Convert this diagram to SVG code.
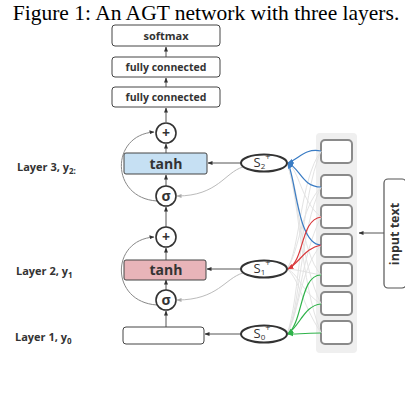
<svg xmlns="http://www.w3.org/2000/svg" width="405" height="407" viewBox="0 0 405 407">
<defs>
<marker id="ah" viewBox="0 0 10 10" refX="9" refY="5" markerWidth="5" markerHeight="5" orient="auto"><path d="M0,1 L10,5 L0,9 z" fill="#333"/></marker>
<marker id="ahg" viewBox="0 0 10 10" refX="9" refY="5" markerWidth="5" markerHeight="5" orient="auto"><path d="M0,1 L10,5 L0,9 z" fill="#aaa"/></marker>
<marker id="ahb" viewBox="0 0 10 10" refX="9" refY="5" markerWidth="5" markerHeight="5" orient="auto"><path d="M0,1 L10,5 L0,9 z" fill="#3a7cc4"/></marker>
<marker id="ahr" viewBox="0 0 10 10" refX="9" refY="5" markerWidth="5" markerHeight="5" orient="auto"><path d="M0,1 L10,5 L0,9 z" fill="#d9393c"/></marker>
<marker id="ahgr" viewBox="0 0 10 10" refX="9" refY="5" markerWidth="5" markerHeight="5" orient="auto"><path d="M0,1 L10,5 L0,9 z" fill="#2fb34a"/></marker>
</defs>
<style>
.lbl{font-family:"Open Sans","Liberation Sans",sans-serif;font-weight:bold;fill:#333}
.st{font-family:"Open Sans","Liberation Sans",sans-serif;fill:#333}
.box{fill:#fff;stroke:#444;stroke-width:1}
.circ{fill:#fff;stroke:#333;stroke-width:1.6}
.ell{fill:#fff;stroke:#333;stroke-width:2}
.ib{fill:#fff;stroke:#8a8a8a;stroke-width:2}
.ln{fill:none;stroke:#555;stroke-width:1;marker-end:url(#ah)}
.fb{fill:none;stroke:#888;stroke-width:1;marker-end:url(#ah)}
.gl{fill:none;stroke:#bbb;stroke-width:1;marker-end:url(#ahg)}
.faint{fill:none;stroke:#e3e3e3;stroke-width:1}
.bl{fill:none;stroke:#3a7cc4;stroke-width:1.2}
.rd{fill:none;stroke:#d9393c;stroke-width:1.2}
.gr{fill:none;stroke:#2fb34a;stroke-width:1.2}
</style>
<rect width="405" height="407" fill="#fff"/>
<text x="206" y="20" text-anchor="middle" font-family="Liberation Serif, serif" font-size="21.5" fill="#000">Figure 1: An AGT network with three layers.</text>

<g id="input-column">
<rect x="316" y="133" width="41" height="220" rx="4" fill="#efefef"/>
<rect class="ib" x="321" y="140" width="31" height="23" rx="4"/>
<rect class="ib" x="321" y="175" width="31" height="23" rx="4"/>
<rect class="ib" x="321" y="205" width="31" height="23" rx="4"/>
<rect class="ib" x="321" y="234" width="31" height="23" rx="4"/>
<rect class="ib" x="321" y="263" width="31" height="23" rx="4"/>
<rect class="ib" x="321" y="292" width="31" height="23" rx="4"/>
<rect class="ib" x="321" y="321" width="31" height="23" rx="4"/>
</g>

<g id="connectors">
<path class="ln" d="M166 57 V47"/>
<path class="ln" d="M166 87 V78"/>
<path class="ln" d="M166 122 V108"/>
<path class="ln" d="M166 153 V144"/>
<path class="ln" d="M166 186 V175"/>
<path class="ln" d="M166 227 V207"/>
<path class="ln" d="M166 260 V248"/>
<path class="ln" d="M166 290 V280"/>
<path class="ln" d="M166 327 V311"/>
<path class="fb" d="M157 201 C110 198 110 135 154 132"/>
<path class="fb" d="M157 305 C110 302 110 240 154 237"/>
<path class="ln" d="M241 163 H208"/>
<path class="ln" d="M241 269 H207"/>
<path class="ln" d="M241 334 H205"/>
<path class="gl" d="M243 167 C225 172 218 196 177 196"/>
<path class="gl" d="M243 273 C225 278 218 300 177 300"/>
<path class="ln" d="M384 233 H359"/>
<path class="faint" d="M321 151 C300 180 300 250 287 269 M321 151 C300 200 300 300 287 334 M321 187 C300 210 300 250 287 269 M321 187 C300 230 300 310 287 334 M321 217 C300 200 300 170 287 163 M321 217 C300 260 300 310 287 334 M321 245 C300 270 300 310 287 334 M321 275 C300 250 300 190 287 163 M321 275 C305 272 300 270 287 269 M321 304 C300 260 300 200 287 163 M321 304 C300 290 300 275 287 269 M321 333 C300 280 300 200 287 163 M321 333 C300 300 300 280 287 269"/>
<path class="bl" d="M321 151 C305 148 300 158 288 163" marker-end="url(#ahb)"/>
<path class="bl" d="M321 187 C302 187 300 168 288 163" marker-end="url(#ahb)"/>
<path class="bl" d="M321 245 C298 245 296 180 288 163" marker-end="url(#ahb)"/>
<path class="rd" d="M321 217 C300 220 305 260 288 269" marker-end="url(#ahr)"/>
<path class="rd" d="M321 245 C305 248 300 262 288 269" marker-end="url(#ahr)"/>
<path class="gr" d="M321 275 C300 275 303 322 288 334" marker-end="url(#ahgr)"/>
<path class="gr" d="M321 304 C305 305 300 325 288 334" marker-end="url(#ahgr)"/>
<path class="gr" d="M321 333 C310 333 300 334 288 334" marker-end="url(#ahgr)"/>
</g>

<g id="softmax">
<rect class="box" x="112" y="25" width="108" height="21" rx="3"/>
<text class="lbl" x="166" y="40" text-anchor="middle" font-size="11">softmax</text>
</g>
<g id="fc2">
<rect class="box" x="112" y="57" width="108" height="20" rx="3"/>
<text class="lbl" x="166" y="71" text-anchor="middle" font-size="10.5">fully connected</text>
</g>
<g id="fc1">
<rect class="box" x="112" y="87" width="108" height="20" rx="3"/>
<text class="lbl" x="166" y="101" text-anchor="middle" font-size="10.5">fully connected</text>
</g>

<g id="plus3">
<circle class="circ" cx="166" cy="133" r="10"/>
<text class="lbl" x="166" y="138" text-anchor="middle" font-size="14">+</text>
</g>
<g id="tanh3">
<rect x="124" y="153" width="83" height="21" rx="2" fill="#c6e0f3" stroke="#444" stroke-width="1"/>
<text class="lbl" x="166" y="169" text-anchor="middle" font-size="14">tanh</text>
</g>
<g id="sigma3">
<circle class="circ" cx="166" cy="196" r="10"/>
<text class="lbl" x="166" y="201" text-anchor="middle" font-size="14">σ</text>
</g>
<g id="plus2">
<circle class="circ" cx="166" cy="237" r="10"/>
<text class="lbl" x="166" y="242" text-anchor="middle" font-size="14">+</text>
</g>
<g id="tanh2">
<rect x="124" y="260" width="82" height="20" rx="2" fill="#e8b4b9" stroke="#444" stroke-width="1"/>
<text class="lbl" x="166" y="275" text-anchor="middle" font-size="14">tanh</text>
</g>
<g id="sigma2">
<circle class="circ" cx="166" cy="300" r="10"/>
<text class="lbl" x="166" y="305" text-anchor="middle" font-size="14">σ</text>
</g>
<g id="layer1">
<rect class="box" x="123" y="327" width="81" height="17" rx="3"/>
</g>

<g id="labels">
<text class="lbl" x="17" y="171" font-size="11">Layer 3, y<tspan font-size="8" dy="3">2:</tspan></text>
<text class="lbl" x="16" y="275" font-size="11">Layer 2, y<tspan font-size="8" dy="3">1</tspan></text>
<text class="lbl" x="15" y="341" font-size="11">Layer 1, y<tspan font-size="8" dy="3">0</tspan></text>
</g>

<g id="s2">
<ellipse class="ell" cx="264" cy="163" rx="23" ry="8.5"/>
<text class="st" x="262" y="167" font-size="13" text-anchor="middle">S<tspan font-size="8" dy="2">2</tspan><tspan font-size="9" dy="-9">+</tspan></text>
</g>
<g id="s1">
<ellipse class="ell" cx="264" cy="269" rx="23" ry="8.5"/>
<text class="st" x="262" y="273" font-size="13" text-anchor="middle">S<tspan font-size="8" dy="2">1</tspan><tspan font-size="9" dy="-9">+</tspan></text>
</g>
<g id="s0">
<ellipse class="ell" cx="264" cy="334" rx="23" ry="8.5"/>
<text class="st" x="262" y="338" font-size="13" text-anchor="middle">S<tspan font-size="8" dy="2">0</tspan><tspan font-size="9" dy="-9">+</tspan></text>
</g>

<g id="input-text">
<rect x="384" y="179" width="22" height="109" rx="4" fill="#fff" stroke="#555" stroke-width="1.2"/>
<text class="lbl" transform="translate(399,234) rotate(-90)" text-anchor="middle" font-size="12.5">input text</text>
</g>
</svg>
